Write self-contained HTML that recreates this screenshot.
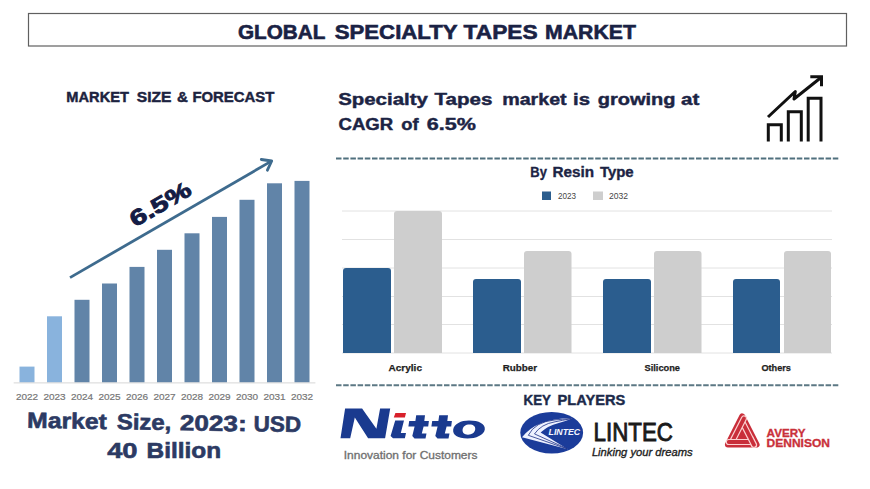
<!DOCTYPE html>
<html><head><meta charset="utf-8">
<style>
html,body{margin:0;padding:0;background:#fff;width:870px;height:489px;overflow:hidden}
svg{display:block}
text{font-family:"Liberation Sans",sans-serif}
.b{font-weight:bold}
</style></head><body>
<svg width="870" height="489" viewBox="0 0 870 489">
<rect x="0" y="0" width="870" height="489" fill="#ffffff"/>
<!-- title box -->
<rect x="28.5" y="13.5" width="818" height="32.5" fill="none" stroke="#606060" stroke-width="1.2"/>
<!--L:title--><g ><text class="b" font-size="20.8" fill="#1a2244" stroke="#1a2244" stroke-width="0.6" x="237.98" y="38.7" textLength="87.48" lengthAdjust="spacingAndGlyphs">GLOBAL</text><text class="b" font-size="20.8" fill="#1a2244" stroke="#1a2244" stroke-width="0.6" x="334.71" y="38.7" textLength="122.92" lengthAdjust="spacingAndGlyphs">SPECIALTY</text><text class="b" font-size="20.8" fill="#1a2244" stroke="#1a2244" stroke-width="0.6" x="463.54" y="38.7" textLength="74.09" lengthAdjust="spacingAndGlyphs">TAPES</text><text class="b" font-size="20.8" fill="#1a2244" stroke="#1a2244" stroke-width="0.6" x="545.08" y="38.7" textLength="90.82" lengthAdjust="spacingAndGlyphs">MARKET</text></g><!--/L:title-->

<!-- left section -->
<!--L:msf--><g ><text class="b" font-size="15" fill="#1c2340" stroke="#1c2340" stroke-width="0.45" x="66.37" y="101.8" textLength="62.53" lengthAdjust="spacingAndGlyphs">MARKET</text><text class="b" font-size="15" fill="#1c2340" stroke="#1c2340" stroke-width="0.45" x="136.88" y="101.8" textLength="34.63" lengthAdjust="spacingAndGlyphs">SIZE</text><text class="b" font-size="15" fill="#1c2340" stroke="#1c2340" stroke-width="0.45" x="176.98" y="101.8" textLength="10.92" lengthAdjust="spacingAndGlyphs">&amp;</text><text class="b" font-size="15" fill="#1c2340" stroke="#1c2340" stroke-width="0.45" x="192.42" y="101.8" textLength="81.92" lengthAdjust="spacingAndGlyphs">FORECAST</text></g><!--/L:msf-->

<g id="leftbars">
<rect x="19.5" y="366.6" width="15" height="15.9" fill="#89b3dd"/>
<rect x="47" y="316.3" width="15" height="66.2" fill="#89b3dd"/>
<rect x="74.5" y="299.8" width="15" height="82.7" fill="#6184a8"/>
<rect x="102" y="283.5" width="15" height="99" fill="#6184a8"/>
<rect x="129.5" y="266.9" width="15" height="115.6" fill="#6184a8"/>
<rect x="157" y="249.8" width="15" height="132.7" fill="#6184a8"/>
<rect x="184.5" y="233.3" width="15" height="149.2" fill="#6184a8"/>
<rect x="212" y="216.9" width="15" height="165.6" fill="#6184a8"/>
<rect x="239.5" y="199.8" width="15" height="182.7" fill="#6184a8"/>
<rect x="267" y="183.3" width="15" height="199.2" fill="#6184a8"/>
<rect x="294.5" y="180.9" width="15" height="201.6" fill="#6184a8"/>
</g>
<line x1="13.7" y1="382.9" x2="315.4" y2="382.9" stroke="#d6d6d6" stroke-width="1"/>
<g font-size="9.9" fill="#767676" stroke="#767676" stroke-width="0.2" text-anchor="middle">
<text x="27" y="400.1" textLength="22.2" lengthAdjust="spacingAndGlyphs">2022</text>
<text x="54.5" y="400.1" textLength="22.2" lengthAdjust="spacingAndGlyphs">2023</text>
<text x="82" y="400.1" textLength="22.2" lengthAdjust="spacingAndGlyphs">2024</text>
<text x="109.5" y="400.1" textLength="22.2" lengthAdjust="spacingAndGlyphs">2025</text>
<text x="137" y="400.1" textLength="22.2" lengthAdjust="spacingAndGlyphs">2026</text>
<text x="164.5" y="400.1" textLength="22.2" lengthAdjust="spacingAndGlyphs">2027</text>
<text x="192" y="400.1" textLength="22.2" lengthAdjust="spacingAndGlyphs">2028</text>
<text x="219.5" y="400.1" textLength="22.2" lengthAdjust="spacingAndGlyphs">2029</text>
<text x="247" y="400.1" textLength="22.2" lengthAdjust="spacingAndGlyphs">2030</text>
<text x="274.5" y="400.1" textLength="22.2" lengthAdjust="spacingAndGlyphs">2031</text>
<text x="302" y="400.1" textLength="22.2" lengthAdjust="spacingAndGlyphs">2032</text>
</g>
<g stroke="#3e6b8e" stroke-width="2.8" stroke-linecap="round" stroke-linejoin="round" fill="none">
<line x1="70" y1="277.6" x2="271" y2="161.4" stroke-linecap="butt"/>
<polyline points="261.3,159.5 271.7,161 267.4,170.2"/>
</g>
<text class="b" transform="translate(135,227.5) rotate(-30)" x="0" y="0" font-size="22" fill="#141c45" stroke="#141c45" stroke-width="0.9" textLength="67" lengthAdjust="spacingAndGlyphs">6.5%</text>

<!--L:ms1--><g transform="rotate(0.9 27.4 427.8)"><text class="b" font-size="22" fill="#2c3a63" stroke="#2c3a63" stroke-width="0.6" x="27.08" y="427.8" textLength="79.65" lengthAdjust="spacingAndGlyphs">Market</text><text class="b" font-size="22" fill="#2c3a63" stroke="#2c3a63" stroke-width="0.6" x="116.76" y="427.8" textLength="54.55" lengthAdjust="spacingAndGlyphs">Size,</text><text class="b" font-size="22" fill="#2c3a63" stroke="#2c3a63" stroke-width="0.6" x="179.81" y="427.8" textLength="66.84" lengthAdjust="spacingAndGlyphs">2023:</text><text class="b" font-size="22" fill="#2c3a63" stroke="#2c3a63" stroke-width="0.6" x="253.59" y="427.8" textLength="47.48" lengthAdjust="spacingAndGlyphs">USD</text></g><!--/L:ms1-->
<!--L:ms2--><g ><text class="b" font-size="22" fill="#2c3a63" stroke="#2c3a63" stroke-width="0.6" x="107.15" y="457.5" textLength="30.43" lengthAdjust="spacingAndGlyphs">40</text><text class="b" font-size="22" fill="#2c3a63" stroke="#2c3a63" stroke-width="0.6" x="146.64" y="457.5" textLength="74.55" lengthAdjust="spacingAndGlyphs">Billion</text></g><!--/L:ms2-->

<!-- right top -->
<!--L:sp1--><g ><text class="b" font-size="17.4" fill="#1c2444" stroke="#1c2444" stroke-width="0.45" x="338.15" y="105.2" textLength="89.70" lengthAdjust="spacingAndGlyphs">Specialty</text><text class="b" font-size="17.4" fill="#1c2444" stroke="#1c2444" stroke-width="0.45" x="434.54" y="105.2" textLength="57.87" lengthAdjust="spacingAndGlyphs">Tapes</text><text class="b" font-size="17.4" fill="#1c2444" stroke="#1c2444" stroke-width="0.45" x="502.20" y="105.2" textLength="64.48" lengthAdjust="spacingAndGlyphs">market</text><text class="b" font-size="17.4" fill="#1c2444" stroke="#1c2444" stroke-width="0.45" x="573.08" y="105.2" textLength="16.99" lengthAdjust="spacingAndGlyphs">is</text><text class="b" font-size="17.4" fill="#1c2444" stroke="#1c2444" stroke-width="0.45" x="597.81" y="105.2" textLength="77.77" lengthAdjust="spacingAndGlyphs">growing</text><text class="b" font-size="17.4" fill="#1c2444" stroke="#1c2444" stroke-width="0.45" x="680.98" y="105.2" textLength="18.31" lengthAdjust="spacingAndGlyphs">at</text></g><!--/L:sp1-->
<!--L:sp2--><g ><text class="b" font-size="17.4" fill="#1c2444" stroke="#1c2444" stroke-width="0.45" x="338.54" y="130" textLength="54.70" lengthAdjust="spacingAndGlyphs">CAGR</text><text class="b" font-size="17.4" fill="#1c2444" stroke="#1c2444" stroke-width="0.45" x="401.32" y="130" textLength="17.36" lengthAdjust="spacingAndGlyphs">of</text><text class="b" font-size="17.4" fill="#1c2444" stroke="#1c2444" stroke-width="0.45" x="426.76" y="130" textLength="49.09" lengthAdjust="spacingAndGlyphs">6.5%</text></g><!--/L:sp2-->

<!-- growth icon -->
<g stroke="#111" stroke-width="3" fill="none" stroke-linejoin="miter">
<polyline points="768.3,141.5 768.3,124.8 781.3,124.8 781.3,141.5"/>
<polyline points="788.3,141.5 788.3,111.7 801.3,111.7 801.3,141.5"/>
<polyline points="808.2,141.5 808.2,98.3 821,98.3 821,141.5"/>
<polyline points="768,117 795.3,91.5 794,99 821,77.5" stroke-linejoin="round"/>
<polyline points="810.3,76.8 821.5,76.8 821.5,86.2"/>
</g>

<line x1="336" y1="158.5" x2="839" y2="158.5" stroke="#50707e" stroke-width="2" stroke-dasharray="5.5 1.7"/>

<!-- resin chart -->
<!--L:brt--><g ><text class="b" font-size="14" fill="#1c2444" stroke="#1c2444" stroke-width="0.35" x="530.37" y="177" textLength="16.53" lengthAdjust="spacingAndGlyphs">By</text><text class="b" font-size="14" fill="#1c2444" stroke="#1c2444" stroke-width="0.35" x="552.42" y="177" textLength="41.55" lengthAdjust="spacingAndGlyphs">Resin</text><text class="b" font-size="14" fill="#1c2444" stroke="#1c2444" stroke-width="0.35" x="599.93" y="177" textLength="33.75" lengthAdjust="spacingAndGlyphs">Type</text></g><!--/L:brt-->
<rect x="542" y="191.5" width="9" height="8.5" fill="#2b5d8e"/>
<text x="558" y="199.1" font-size="8.7" fill="#454545" textLength="18" lengthAdjust="spacingAndGlyphs">2023</text>
<rect x="593" y="191.5" width="10" height="8.5" fill="#cecece"/>
<text x="609" y="199.1" font-size="8.7" fill="#454545" textLength="19" lengthAdjust="spacingAndGlyphs">2032</text>

<g stroke="#e2e2e2" stroke-width="1">
<line x1="342" y1="211" x2="832" y2="211"/>
<line x1="342" y1="239.5" x2="832" y2="239.5"/>
<line x1="342" y1="268" x2="832" y2="268"/>
<line x1="342" y1="296.5" x2="832" y2="296.5"/>
<line x1="342" y1="324.5" x2="832" y2="324.5"/>
<line x1="342" y1="353" x2="832" y2="353"/>
</g>
<g>
<path d="M343,353 V271 a3,3 0 0 1 3,-3 H388 a3,3 0 0 1 3,3 V353 Z" fill="#2b5d8e"/>
<path d="M394,353 V214 a3,3 0 0 1 3,-3 H439 a3,3 0 0 1 3,3 V353 Z" fill="#cecece"/>
<path d="M473,353 V282 a3,3 0 0 1 3,-3 H518 a3,3 0 0 1 3,3 V353 Z" fill="#2b5d8e"/>
<path d="M524,353 V254 a3,3 0 0 1 3,-3 H568.5 a3,3 0 0 1 3,3 V353 Z" fill="#cecece"/>
<path d="M603,353 V282 a3,3 0 0 1 3,-3 H648 a3,3 0 0 1 3,3 V353 Z" fill="#2b5d8e"/>
<path d="M654,353 V254 a3,3 0 0 1 3,-3 H698.5 a3,3 0 0 1 3,3 V353 Z" fill="#cecece"/>
<path d="M733,353 V282 a3,3 0 0 1 3,-3 H777 a3,3 0 0 1 3,3 V353 Z" fill="#2b5d8e"/>
<path d="M784,353 V254 a3,3 0 0 1 3,-3 H828 a3,3 0 0 1 3,3 V353 Z" fill="#cecece"/>
</g>
<g class="b" font-size="9.6" fill="#1e1e1e" stroke="#1e1e1e" stroke-width="0.25">
<text class="b" x="388.5" y="371.4" textLength="33.5" lengthAdjust="spacingAndGlyphs">Acrylic</text>
<text class="b" x="502.8" y="371.4" textLength="34.3" lengthAdjust="spacingAndGlyphs">Rubber</text>
<text class="b" x="644.5" y="371.4" textLength="35.5" lengthAdjust="spacingAndGlyphs">Silicone</text>
<text class="b" x="761.4" y="371.4" textLength="29.6" lengthAdjust="spacingAndGlyphs">Others</text>
</g>

<line x1="336" y1="385.2" x2="839" y2="385.2" stroke="#5c7884" stroke-width="2" stroke-dasharray="5.5 1.7"/>

<!--L:kp--><g ><text class="b" font-size="13.8" fill="#1c2a4a" stroke="#1c2a4a" stroke-width="0.4" x="523.54" y="404.7" textLength="27.48" lengthAdjust="spacingAndGlyphs">KEY</text><text class="b" font-size="13.8" fill="#1c2a4a" stroke="#1c2a4a" stroke-width="0.4" x="557.54" y="404.7" textLength="67.65" lengthAdjust="spacingAndGlyphs">PLAYERS</text></g><!--/L:kp-->

<!-- Nitto -->
<g fill="#1a3a8f">
<polygon points="345.1,408.4 362.1,408.4 376.4,428.7 380.1,408.4 390.2,408.4 385.1,438.3 368.1,438.3 354.8,417.6 350.2,438.3 340.5,438.3"/>
<polygon points="395.2,420.4 404,420.4 400.8,433 406,433 404.9,438.3 393,438.3 390.6,436 "/>
<path d="M416.2,415.2 H425 L424.3,421 H428.9 L428.2,426.4 H423.6 L421.8,433.5 H426.5 L425.5,438.6 H414.5 L412.3,436 L414.6,426.4 H408.4 L409.2,421 H415.4 Z"/>
<path d="M439.2,415.2 H448 L447.3,421 H451.9 L451.2,426.4 H446.6 L444.8,433.5 H449.5 L448.5,438.6 H437.5 L435.3,436 L437.6,426.4 H431.4 L432.2,421 H438.4 Z"/>
<path fill-rule="evenodd" d="M469,420.6 C479,420.6 485.5,424 484.8,429.6 C484,435.2 476,438.6 467.5,438.6 C457.5,438.6 452.5,435 453.2,429.6 C454,424 461,420.6 469,420.6 Z M469.5,424.5 C465.5,424.5 463,426.5 462.6,429.6 C462.2,432.7 464,434.7 468,434.7 C472,434.7 474.8,432.7 475.2,429.6 C475.6,426.5 473.5,424.5 469.5,424.5 Z"/>
</g>
<polygon points="395.4,412.9 406,412.9 404.9,417.6 393.8,417.6" fill="#d8202a"/>
<text x="343.8" y="458.8" font-size="10.2" fill="#707070" stroke="#707070" stroke-width="0.3" textLength="133.7" lengthAdjust="spacingAndGlyphs">Innovation for Customers</text>

<!-- LINTEC -->
<defs><clipPath id="lc"><ellipse cx="551.7" cy="432.8" rx="31.4" ry="20.8"/></clipPath></defs>
<ellipse cx="551.7" cy="432.8" rx="31.4" ry="20.8" fill="#1b3c9a"/>
<g clip-path="url(#lc)">
<path d="M572,418.2 Q537,417.8 522,437.3 L567.8,449.2 L540.6,432.6 Q548,425.5 558,423.2 Q566,421.2 572,418.6 Z" fill="#eef2ff"/>
<g fill="none" stroke="#1a2f85" stroke-width="0.8">
<path d="M571.5,418.5 Q562,419.3 555,419.9 Q535,421.8 528.3,435.3 L567,448.8"/>
<path d="M571.5,418.6 Q562,420.4 555,421.8 Q541,424.2 534.5,433.9 L567,448.6"/>
</g>
</g>
<text x="548.6" y="434.7" font-size="9.2" font-style="italic" font-weight="bold" fill="#f4f6ff" textLength="31.6" lengthAdjust="spacingAndGlyphs">LINTEC</text>
<text x="593.6" y="441" font-size="26" fill="#1a1a1a" stroke="#1a1a1a" stroke-width="0.9" textLength="79.3" lengthAdjust="spacingAndGlyphs">LINTEC</text>
<text x="591.9" y="456.2" font-size="11" font-style="italic" fill="#1e1e1e" stroke="#1e1e1e" stroke-width="0.35" textLength="100.7" lengthAdjust="spacingAndGlyphs">Linking your dreams</text>

<!-- Avery Dennison -->
<defs><clipPath id="avbr"><rect x="748" y="436" width="20" height="15"/></clipPath></defs>
<path d="M742.2,416.4 L756.6,444.5 L727.9,444.5 Z" fill="#c92e3a" stroke="#c92e3a" stroke-width="6" stroke-linejoin="round"/>
<g fill="#c92e3a" stroke="#fbd0d0" stroke-width="1.2">
<rect x="-14.34" y="-2.50" width="28.68" height="5.00" rx="2.50" transform="translate(748.54,434.26) rotate(62.87)"/>
<rect x="-14.64" y="-2.50" width="29.28" height="5.00" rx="2.50" transform="translate(738.49,429.20) rotate(116.97)"/>
<rect x="-13.26" y="-2.50" width="26.53" height="5.00" rx="2.50" transform="translate(739.52,442.00) rotate(0.00)"/>
<g clip-path="url(#avbr)"><rect x="-14.34" y="-2.50" width="28.68" height="5.00" rx="2.50" transform="translate(748.54,434.26) rotate(62.87)"/></g>
</g>
<text class="b" x="766.6" y="437.1" font-size="10.8" fill="#c9303a" stroke="#c9303a" stroke-width="0.3" textLength="38.8" lengthAdjust="spacingAndGlyphs">AVERY</text>
<text class="b" x="766.6" y="447.1" font-size="10.8" fill="#c9303a" stroke="#c9303a" stroke-width="0.3" textLength="63.4" lengthAdjust="spacingAndGlyphs">DENNISON</text>
</svg>
</body></html>
